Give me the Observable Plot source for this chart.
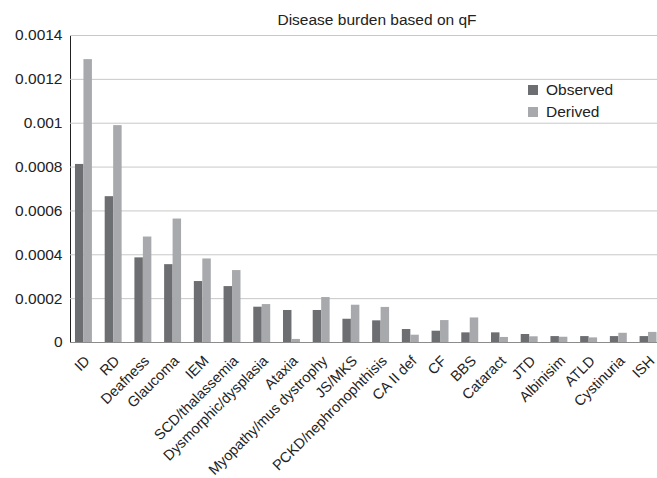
<!DOCTYPE html>
<html>
<head>
<meta charset="utf-8">
<script src="https://cdn.jsdelivr.net/npm/d3@7"></script>
<script src="https://cdn.jsdelivr.net/npm/@observablehq/plot@0.6"></script>
<style>
  html, body { margin: 0; padding: 0; background: #fff; }
  #wrap { position: relative; width: 657px; height: 478px; font-family: Arial, "Liberation Sans", sans-serif; }
  .legend { position: absolute; left: 528px; font-size: 15.5px; color: #222; display: flex; align-items: center; }
  .sw { width: 10px; height: 10px; margin-right: 8px; }
</style>
</head>
<body>
<div id="wrap"></div>
<script>
const title = "Disease burden based on qF";
const categories = ["ID","RD","Deafness","Glaucoma","IEM","SCD/thalassemia","Dysmorphic/dysplasia","Ataxia","Myopathy/mus dystrophy","JS/MKS","PCKD/nephronophthisis","CA II def","CF","BBS","Cataract","JTD","Albinisim","ATLD","Cystinuria","ISH"];
const observed = [0.000812,0.000665,0.000386,0.000355,0.000278,0.000255,0.000161,0.000146,0.000146,0.000106,0.0000988,0.0000592,0.0000515,0.000044,0.000044,0.0000365,0.000027,0.000027,0.000027,0.000027];
const derived  = [0.00129,0.000989,0.000481,0.000563,0.000381,0.000328,0.000173,0.000014,0.000205,0.00017,0.00016,0.0000333,0.0001,0.000112,0.000023,0.000026,0.000024,0.000021,0.000042,0.000046];
const seriesNames = ["Observed","Derived"];
const seriesColors = ["#6d6e71","#a7a9ac"];
const yTicks = [0,0.0002,0.0004,0.0006,0.0008,0.001,0.0012,0.0014];

const obsData = categories.map((c,i) => ({category: c, value: observed[i]}));
const derData = categories.map((c,i) => ({category: c, value: derived[i]}));

const W = 657, ML = 70, MR = 0;
const xRange = [62.2, 669.3];
const xPad = 0.43;
const half = Plot.scale({x: {type: "band", domain: categories, range: xRange, padding: xPad, round: false}}).bandwidth / 2;

const plot = Plot.plot({
  width: W,
  height: 478,
  marginLeft: ML,
  marginRight: MR,
  marginTop: 35,
  marginBottom: 136,
  style: {fontFamily: 'Arial, "Liberation Sans", sans-serif', fontSize: "15.5px", color: "#222", background: "#fff"},
  x: {type: "band", domain: categories, range: xRange, padding: xPad, round: false, axis: null},
  y: {domain: [0, 0.0014], ticks: yTicks, tickFormat: d => String(d), tickSize: 0, tickPadding: 8, label: null, line: true},
  marks: [
    Plot.ruleY(yTicks, {stroke: "#c8c8c8", strokeWidth: 1}),
    Plot.barY(obsData, {x: "category", y: "value", fill: seriesColors[0], insetLeft: 0, insetRight: half}),
    Plot.barY(derData, {x: "category", y: "value", fill: seriesColors[1], insetLeft: half, insetRight: 0}),
    Plot.ruleY([0], {stroke: "#8c8c8c", strokeWidth: 1.2}),
    Plot.text(categories, {x: d => d, frameAnchor: "bottom", rotate: -45, textAnchor: "end", lineAnchor: "middle", dx: 3.5, dy: 16, fontSize: 14.5, fill: "#222"}),
    Plot.text([title], {frameAnchor: "top", dy: -22, dx: 13, fontSize: 15.5, fill: "#222"})
  ]
});
const wrap = document.getElementById("wrap");
wrap.appendChild(plot);
seriesNames.forEach((name, i) => {
  const row = document.createElement("div");
  row.className = "legend";
  row.style.top = (81 + i * 22) + "px";
  const sw = document.createElement("div");
  sw.className = "sw";
  sw.style.background = seriesColors[i];
  row.appendChild(sw);
  row.appendChild(document.createTextNode(name));
  wrap.appendChild(row);
});
</script>
</body>
</html>
